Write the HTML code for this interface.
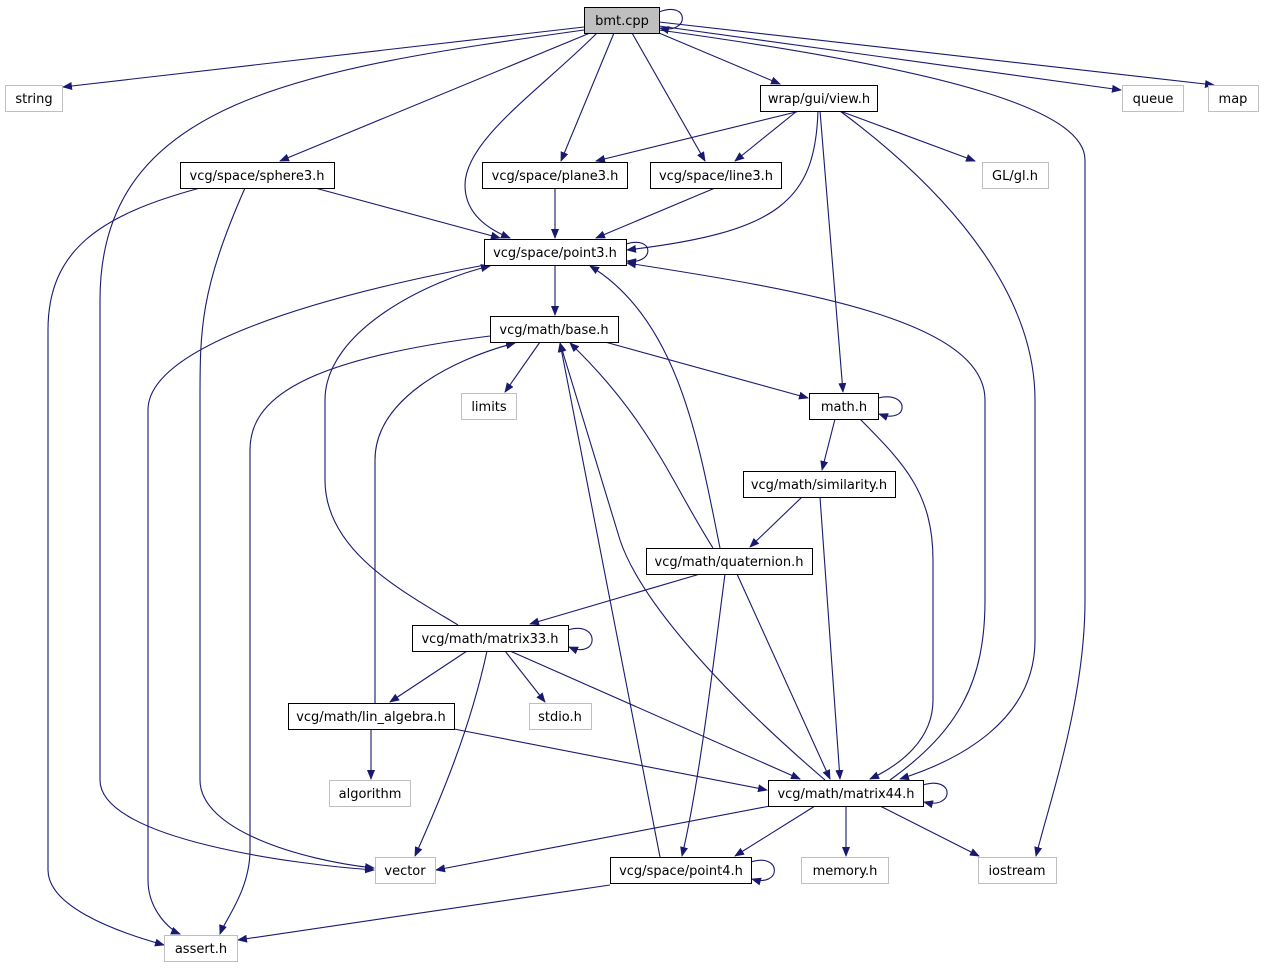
<!DOCTYPE html>
<html><head><meta charset="utf-8"><style>
html,body{margin:0;padding:0;background:#fff}
svg{display:block}
text{font-family:"DejaVu Sans","Liberation Sans",sans-serif;font-size:13px;fill:#000}
.e{fill:none;stroke:#191970;stroke-width:1.1}
.n{fill:#fff;stroke:#000;stroke-width:1}
.g{fill:#fff;stroke:#bfbfbf;stroke-width:1}
</style></head><body>
<svg width="1264" height="968" viewBox="0 0 1264 968" xmlns="http://www.w3.org/2000/svg">
<defs><marker id="a" markerWidth="10" markerHeight="8" refX="9" refY="4" orient="auto" markerUnits="userSpaceOnUse"><path d="M0,0 L10,4 L0,8 z" fill="#191970"/></marker></defs>
<g class="e" marker-end="url(#a)">
<path d="M659,12 C690,0 690,35 660,28"/>
<path d="M584,27 L63,87"/>
<path d="M584,30 C300,70 100,100 100,300 L100,780 C100,840 300,865 374,870"/>
<path d="M590,33 L280,161"/>
<path d="M597,33 C540,90 465,140 465,185 C465,215 490,230 510,238"/>
<path d="M614,33 L561,161"/>
<path d="M632,33 L705,161"/>
<path d="M659,33 L780,84"/>
<path d="M659,26 L1121,90"/>
<path d="M659,22 L1214,85"/>
<path d="M659,30 C950,70 1085,110 1085,160 L1085,600 C1085,700 1050,800 1036,856"/>
<path d="M800,111 L596,161"/>
<path d="M797,111 L735,161"/>
<path d="M818,111 C815,200 780,232 627,250"/>
<path d="M820,111 L843,392"/>
<path d="M840,111 L975,161"/>
<path d="M840,111 C960,200 1035,300 1035,400 L1035,640 C1035,720 960,760 900,779"/>
<path d="M315,188 L500,238"/>
<path d="M200,188 C100,215 48,250 48,330 L48,870 C48,905 110,930 164,945"/>
<path d="M245,188 C200,290 200,330 200,400 L200,780 C200,830 300,860 374,868"/>
<path d="M555,188 L555,238"/>
<path d="M715,188 L596,238"/>
<path d="M626,244 C655,235 655,265 627,261"/>
<path d="M555,265 L555,315"/>
<path d="M485,265 C300,300 148,350 148,410 L148,880 C148,910 170,930 180,934"/>
<path d="M540,342 L505,392"/>
<path d="M605,342 L808,398"/>
<path d="M490,336 C300,360 250,400 250,450 L250,850 C250,890 225,920 220,934"/>
<path d="M878,398 C910,390 910,425 879,414"/>
<path d="M835,419 L822,470"/>
<path d="M860,419 C900,460 933,490 933,560 L933,700 C933,740 900,765 870,779"/>
<path d="M802,497 L750,547"/>
<path d="M820,497 L840,779"/>
<path d="M713,548 C670,480 650,420 570,343"/>
<path d="M720,548 C700,450 680,320 590,266"/>
<path d="M700,574 L530,624"/>
<path d="M737,574 L830,779"/>
<path d="M725,574 C715,650 700,780 682,856"/>
<path d="M458,625 C400,590 325,550 325,480 L325,400 C325,330 430,280 490,266"/>
<path d="M568,630 C600,620 600,660 569,647"/>
<path d="M467,651 L390,702"/>
<path d="M505,651 L545,702"/>
<path d="M487,651 C470,730 440,800 415,856"/>
<path d="M510,651 L800,779"/>
<path d="M375,703 L375,460 C375,400 450,360 515,343"/>
<path d="M371,729 L371,779"/>
<path d="M454,729 L767,790"/>
<path d="M923,785 C955,775 955,810 924,802"/>
<path d="M825,780 C720,690 640,600 620,540 L560,343"/>
<path d="M890,780 C960,730 985,680 985,600 L985,400 C985,320 800,290 627,263"/>
<path d="M770,806 L436,870"/>
<path d="M846,806 L846,856"/>
<path d="M880,806 L979,856"/>
<path d="M815,806 L735,856"/>
<path d="M751,862 C782,852 782,888 752,879"/>
<path d="M660,857 L560,343"/>
<path d="M610,885 L238,940"/>
</g>
<rect x="584.5" y="7.5" width="75" height="26" fill="#bfbfbf" stroke="#000"/><text x="622" y="25" text-anchor="middle">bmt.cpp</text>
<g text-anchor="middle">
<rect class="g" x="5.5" y="85.5" width="57" height="26"/><text x="34" y="103">string</text>
<rect class="n" x="180.5" y="162.5" width="154" height="26"/><text x="257" y="180">vcg/space/sphere3.h</text>
<rect class="n" x="482.5" y="162.5" width="145" height="26"/><text x="555" y="180">vcg/space/plane3.h</text>
<rect class="n" x="650.5" y="162.5" width="131" height="26"/><text x="716" y="180">vcg/space/line3.h</text>
<rect class="n" x="760.5" y="85.5" width="117" height="26"/><text x="819" y="103">wrap/gui/view.h</text>
<rect class="g" x="1122.5" y="85.5" width="61" height="26"/><text x="1153" y="103">queue</text>
<rect class="g" x="1208.5" y="85.5" width="50" height="26"/><text x="1233" y="103">map</text>
<rect class="g" x="982.5" y="162.5" width="66" height="26"/><text x="1015" y="180">GL/gl.h</text>
<rect class="n" x="484.5" y="239.5" width="142" height="26"/><text x="555" y="257">vcg/space/point3.h</text>
<rect class="n" x="490.5" y="316.5" width="128" height="26"/><text x="554" y="334">vcg/math/base.h</text>
<rect class="g" x="461.5" y="393.5" width="55" height="26"/><text x="489" y="411">limits</text>
<rect class="n" x="809.5" y="393.5" width="69" height="26"/><text x="844" y="411">math.h</text>
<rect class="n" x="743.5" y="471.5" width="152" height="26"/><text x="819" y="489">vcg/math/similarity.h</text>
<rect class="n" x="646.5" y="548.5" width="166" height="26"/><text x="729" y="566">vcg/math/quaternion.h</text>
<rect class="n" x="412.5" y="625.5" width="156" height="26"/><text x="490" y="643">vcg/math/matrix33.h</text>
<rect class="g" x="529.5" y="703.5" width="62" height="26"/><text x="560" y="721">stdio.h</text>
<rect class="n" x="288.5" y="703.5" width="166" height="26"/><text x="371" y="721">vcg/math/lin_algebra.h</text>
<rect class="g" x="329.5" y="780.5" width="81" height="26"/><text x="370" y="798">algorithm</text>
<rect class="n" x="768.5" y="780.5" width="155" height="26"/><text x="846" y="798">vcg/math/matrix44.h</text>
<rect class="g" x="375.5" y="857.5" width="60" height="26"/><text x="405" y="875">vector</text>
<rect class="g" x="801.5" y="857.5" width="87" height="26"/><text x="845" y="875">memory.h</text>
<rect class="g" x="978.5" y="857.5" width="78" height="26"/><text x="1017" y="875">iostream</text>
<rect class="n" x="610.5" y="857.5" width="141" height="26"/><text x="681" y="875">vcg/space/point4.h</text>
<rect class="g" x="164.5" y="935.5" width="73" height="26"/><text x="201" y="953">assert.h</text>
</g>
</svg>
</body></html>
